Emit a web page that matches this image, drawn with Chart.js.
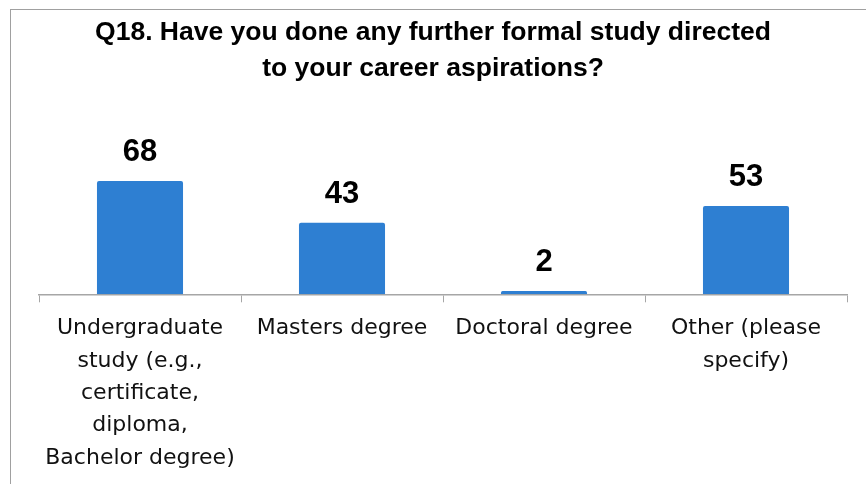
<!DOCTYPE html>
<html>
<head>
<meta charset="utf-8">
<script src="https://cdn.jsdelivr.net/npm/chart.js@4.4.1/dist/chart.umd.min.js"></script>
<style>
  html, body { margin: 0; padding: 0; background: #fff; }
  #wrap { position: relative; width: 866px; height: 484px; overflow: hidden; }
  #frame { position: absolute; left: 10px; top: 9px; width: 900px; height: 520px;
           border-left: 1px solid #a0a0a0; border-top: 1px solid #a0a0a0; }
  canvas { position: absolute; left: 0; top: 0; }
</style>
</head>
<body>
<div id="wrap">
  <div id="frame"></div>
  <canvas id="chartBar" width="866" height="484"></canvas>
</div>
<script>
const categories = [
  ["Undergraduate", "study (e.g.,", "certificate,", "diploma,", "Bachelor degree)"],
  ["Masters degree"],
  ["Doctoral degree"],
  ["Other (please", "specify)"]
];
const counts = [68, 43, 2, 53];
const titleLines = [
  "Q18. Have you done any further formal study directed",
  "to your career aspirations?"
];

// draws the count above each bar
const valueLabels = {
  id: "valueLabels",
  afterDatasetsDraw(chart) {
    const ctx = chart.ctx;
    const meta = chart.getDatasetMeta(0);
    ctx.save();
    ctx.font = "bold 31px 'Liberation Sans', Arial, sans-serif";
    ctx.fillStyle = "#000";
    ctx.textAlign = "center";
    ctx.textBaseline = "alphabetic";
    meta.data.forEach((bar, i) => {
      ctx.fillText(String(counts[i]), bar.x, bar.y - 20);
    });
    ctx.restore();
  }
};

const ctx = document.getElementById("chartBar").getContext("2d");

new Chart(ctx, {
  type: "bar",
  data: {
    labels: categories,
    datasets: [
      {
        data: counts,
        backgroundColor: "#2E7FD2",
        borderRadius: 2,
        borderSkipped: "bottom",
        barPercentage: 0.426,
        categoryPercentage: 1,
      },
    ],
  },
  options: {
    responsive: false,
    animation: false,
    layout: { padding: { left: 19, right: 19, top: 0, bottom: 0 } },
    plugins: {
      legend: { display: false },
      tooltip: { enabled: false },
      title: {
        display: true,
        text: titleLines,
        color: "#000",
        font: { family: "'Liberation Sans', Arial, sans-serif", size: 26.5, weight: "bold", lineHeight: 1.33 },
        padding: { top: 15.5, bottom: 75 },
      },
    },
    scales: {
      x: {
        grid: {
          display: true,
          drawOnChartArea: false,
          drawTicks: true,
          tickLength: 8,
          color: "#a6a6a6",
          offset: true,
        },
        border: { display: true, color: "#a6a6a6", width: 1.5 },
        ticks: {
          color: "#111",
          padding: 10,
          maxRotation: 0,
          autoSkip: false,
          font: { family: "'DejaVu Sans', Arial, sans-serif", size: 22, lineHeight: 1.47 },
        },
      },
      y: {
        display: true,
        min: 0,
        max: 80,
        grid: { display: false, drawTicks: false },
        border: { display: false },
        ticks: { display: false },
        afterFit(scale) { scale.width = 20; },
      },
    },
  },
  plugins: [valueLabels],
});
</script>
</body>
</html>
